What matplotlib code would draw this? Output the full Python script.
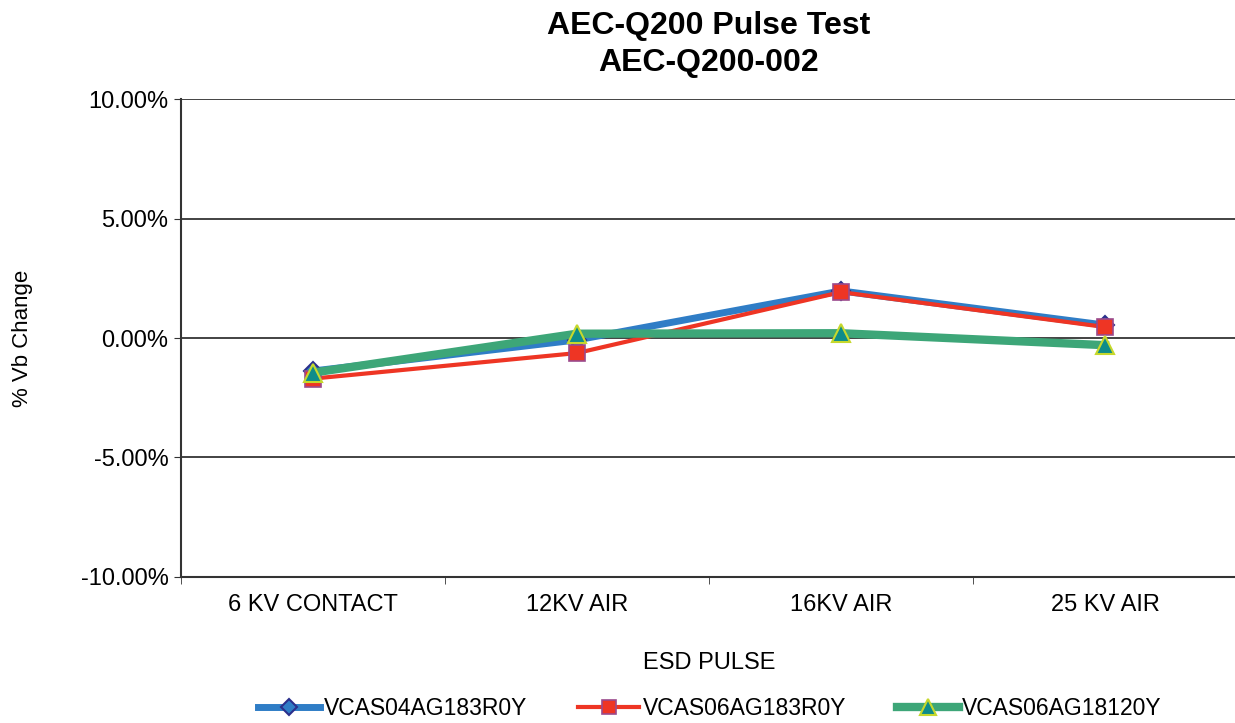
import matplotlib.pyplot as plt
from matplotlib.ticker import FixedLocator, NullFormatter

plt.rcParams['font.family'] = ['Liberation Sans', 'DejaVu Sans']

# Dados
pulses = ['6 KV CONTACT', '12KV AIR', '16KV AIR', '25 KV AIR']
vcas04_183 = [-1.38, -0.08, 1.97, 0.54]
vcas06_183 = [-1.70, -0.63, 1.92, 0.46]
vcas06_120 = [-1.45, 0.18, 0.20, -0.30]

fig = plt.figure(figsize=(12.35, 7.23), dpi=100)
ax = fig.add_axes([0.1466, 0.202, 0.855, 0.661])

x = list(range(len(pulses)))
ax.plot(x, vcas04_183, color='#2F7DC6', lw=5, marker='D', ms=9,
        mfc='#2F7DC6', mec='#2B2F8C', mew=1.5, label='VCAS04AG183R0Y', zorder=3)
ax.plot(x, vcas06_183, color='#EE3524', lw=3, marker='s', ms=12,
        mfc='#EE3524', mec='#9B4A8C', mew=1.2, label='VCAS06AG183R0Y', zorder=4)
ax.plot(x, vcas06_120, color='#3DA678', lw=6, marker='^', ms=13,
        mfc='#0E8C8A', mec='#C6D82C', mew=1.5, label='VCAS06AG18120Y', zorder=5)

ax.set_xlim(-0.5, 3.5)
ax.set_ylim(-10, 10)
ax.set_yticks([-10, -5, 0, 5, 10])
ax.set_yticklabels(['-10.00%', '-5.00%', '0.00%', '5.00%', '10.00%'], fontsize=17)
ax.yaxis.grid(True, color='#222222', lw=1.2)
ax.set_axisbelow(True)

ax.set_xticks(x)
ax.set_xticklabels(pulses, fontsize=17)
ax.xaxis.set_minor_locator(FixedLocator([-0.5, 0.5, 1.5, 2.5, 3.5]))
ax.xaxis.set_minor_formatter(NullFormatter())
ax.tick_params(axis='x', which='major', length=0, pad=12)
ax.tick_params(axis='x', which='minor', length=5, color='#333333')
ax.tick_params(axis='y', length=5, color='#333333', pad=4)

for s in ['top', 'right']:
    ax.spines[s].set_visible(False)
ax.spines['left'].set_color('#333333')
ax.spines['left'].set_linewidth(1.5)
ax.spines['bottom'].set_color('#333333')
ax.spines['bottom'].set_linewidth(1.5)

ax.set_xlabel('ESD PULSE', fontsize=17, labelpad=26)
ax.set_ylabel('% Vb Change', fontsize=16, labelpad=34)
ax.set_title('AEC-Q200 Pulse Test\nAEC-Q200-002', fontsize=23, fontweight='bold',
             pad=20, linespacing=1.33)

fig.legend(loc='lower center', bbox_to_anchor=(0.575, -0.024), ncol=3, frameon=False,
           fontsize=16.5, handlelength=2.7, columnspacing=2.2, handletextpad=0.15,
           markerscale=0.85)

fig.savefig('out.png', dpi=100)
